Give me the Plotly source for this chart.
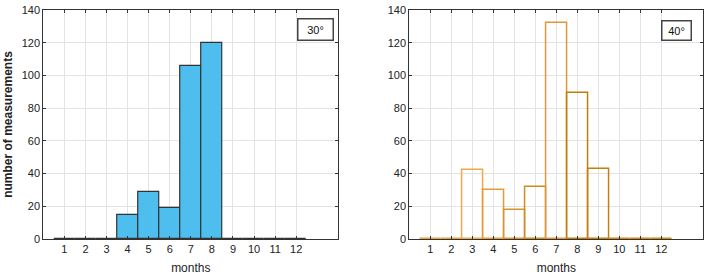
import plotly.graph_objects as go

months = list(range(1, 13))
tick_labels = [str(m) for m in months]
counts_30 = [0, 0, 0, 15, 29, 19, 106, 120, 0, 0, 0, 0]
counts_40 = [0, 0, 42, 30, 18, 32, 132, 89, 43, 0, 0, 0]
edge_40 = ["#e8a040", "#e8a040", "#f0a848", "#e69a38", "#dc9330", "#cf8a20",
           "#df9638", "#c27c0c", "#c67e10", "#d08818", "#d08818", "#d08818"]

FONT = "Liberation Sans, Arial"

fig = go.Figure()
fig.add_trace(go.Bar(x=months, y=counts_30, width=1, marker=dict(color="#4DBEEE", line=dict(color="#333333", width=1.2)),
                     xaxis="x", yaxis="y", showlegend=False))
fig.add_trace(go.Bar(x=months, y=counts_40, width=1, marker=dict(color="rgba(255,255,255,0)", line=dict(color=edge_40, width=1.5)),
                     xaxis="x2", yaxis="y2", showlegend=False))

axis_common = dict(range=[0, 14], tickmode="array", tickvals=months, ticktext=tick_labels,
                   showgrid=True, gridcolor="#e3e3e3", gridwidth=1, zeroline=False,
                   showline=True, linecolor="#333333", linewidth=1, mirror="allticks",
                   ticks="inside", ticklen=3, tickcolor="#333333", automargin=False,
                   tickfont=dict(family=FONT, size=11, color="#222"))
yaxis_common = dict(range=[0, 140], dtick=20, showgrid=True, gridcolor="#e3e3e3", gridwidth=1, zeroline=False,
                    showline=True, linecolor="#333333", linewidth=1, mirror="allticks",
                    ticks="inside", ticklen=3, tickcolor="#333333", automargin=False,
                    tickfont=dict(family=FONT, size=11, color="#222"))

fig.update_layout(
    width=710, height=277, margin=dict(l=0, r=0, t=0, b=0, autoexpand=False),
    paper_bgcolor="white", plot_bgcolor="white", bargap=0,
    xaxis=dict(domain=[0.061, 0.4765], anchor="y",
               title=dict(text="months", font=dict(family=FONT, size=12, color="#222"), standoff=9),
               **axis_common),
    yaxis=dict(domain=[0.137, 0.964], anchor="x",
               title=dict(text="<b>number of measurements</b>", font=dict(family=FONT, size=12, color="#222"), standoff=6),
               **yaxis_common),
    xaxis2=dict(domain=[0.5765, 0.9906], anchor="y2",
                title=dict(text="months", font=dict(family=FONT, size=12, color="#222"), standoff=9),
                **axis_common),
    yaxis2=dict(domain=[0.137, 0.964], anchor="x2", **yaxis_common),
    annotations=[
        dict(text="30°", xref="x domain", yref="y domain", x=0.985, y=0.965, xanchor="right", yanchor="top",
             showarrow=False, font=dict(family=FONT, size=11, color="#111"),
             bgcolor="white", bordercolor="#444", borderwidth=1.5, borderpad=4, width=26),
        dict(text="40°", xref="x2 domain", yref="y2 domain", x=0.96, y=0.955, xanchor="right", yanchor="top",
             showarrow=False, font=dict(family=FONT, size=11, color="#111"),
             bgcolor="white", bordercolor="#444", borderwidth=1.5, borderpad=3, width=22),
    ],
)

fig.write_html("out.html", config={"displayModeBar": False},
               post_script="document.body.style.margin='0';document.body.style.overflow='hidden';")
